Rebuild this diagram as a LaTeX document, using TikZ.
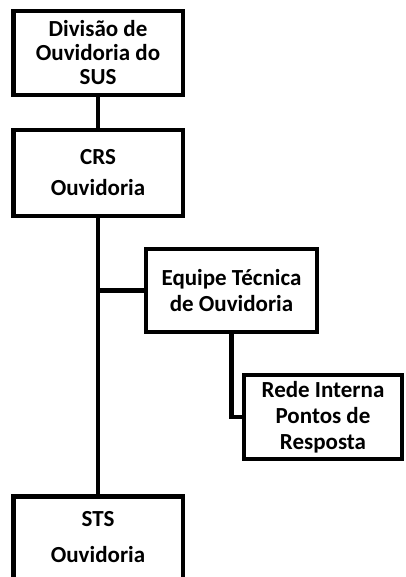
\documentclass[tikz,border=0pt]{standalone}
\usepackage{fontspec}
\setmainfont{Carlito}
\begin{document}
\begin{tikzpicture}[x=1pt,y=-1pt,
  box/.style={draw=black, line width=4.5pt, fill=white, inner sep=0pt},
  txt/.style={font=\fontsize{23}{26}\selectfont\bfseries, align=center, inner sep=0pt},
  conn/.style={line width=4.5pt}]
\useasboundingbox (0,0) rectangle (405,577);
\clip (0,0) rectangle (405,577);
\node[box, txt, font=\fontsize{23}{24}\selectfont\bfseries, minimum width=169.5pt, minimum height=84pt] (div) at (98,53) {Divisão de\\Ouvidoria do\\SUS};
\node[box, txt, minimum width=169.5pt, minimum height=86pt] (crs) at (98,173) {CRS\\[5pt]Ouvidoria};
\node[box, txt, minimum width=171pt, minimum height=83pt] (equipe) at (231.5,290.5) {Equipe Técnica\\de Ouvidoria};
\node[box, txt, minimum width=158pt, minimum height=84pt] (rede) at (323,417) {Rede Interna\\Pontos de\\Resposta};
\node[box, minimum width=169.5pt, minimum height=120pt, anchor=north] (sts) at (98,494) {};
\node[txt] (stst) at (98,537) {STS\\[10pt]Ouvidoria};
\draw[conn] (div.south) -- (crs.north);
\draw[conn] (crs.south) -- (sts.north);
\draw[conn] (equipe.west) -- (equipe.west -| crs.south);
\draw[conn] (equipe.south) |- (rede.west);
\end{tikzpicture}
\end{document}
